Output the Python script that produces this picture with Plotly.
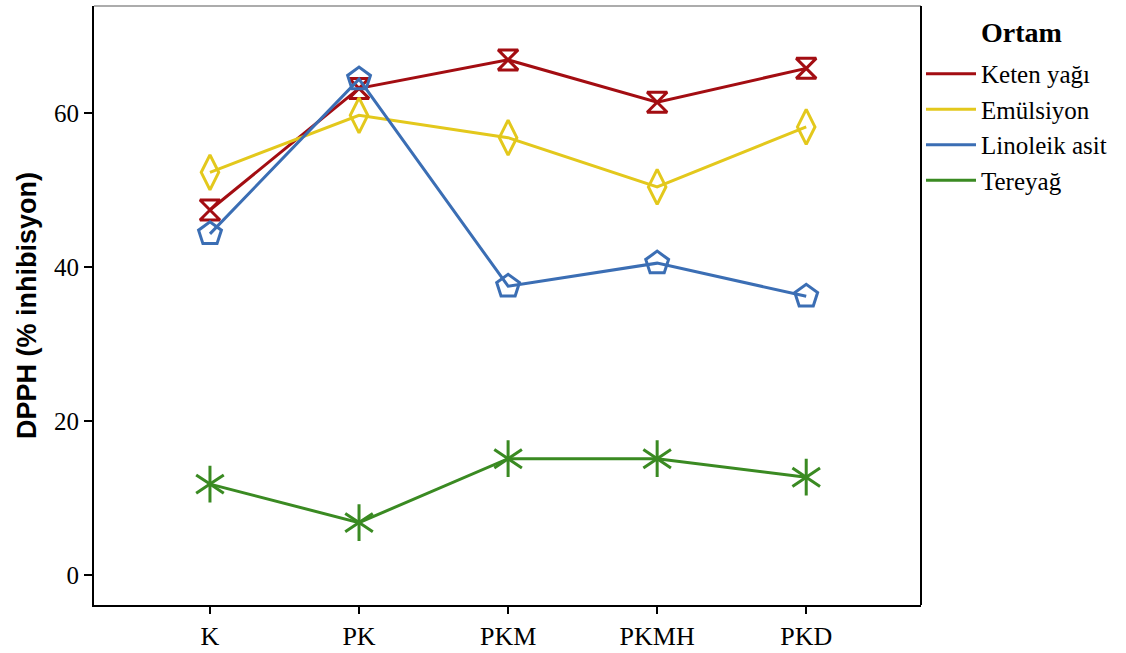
import plotly.graph_objects as go

# Sample groups on the x axis
categories = ["K", "PK", "PKM", "PKMH", "PKD"]

# DPPH radical scavenging (% inhibition) for each medium
keten_yagi = [47.4, 63.2, 66.9, 61.4, 65.8]
emulsiyon = [52.3, 59.7, 56.8, 50.4, 58.2]
linoleik_asit = [44.3, 64.4, 37.5, 40.5, 36.2]
tereyag = [11.8, 6.8, 15.1, 15.1, 12.7]

series_names = ["Keten yağı", "Emülsiyon", "Linoleik asit", "Tereyağ"]
y_ticks = [0, 20, 40, 60]

colors = ["#A30D12", "#E3C81C", "#3B6EB4", "#3A8A22"]
symbols = ["hourglass-open", "diamond-tall-open", "pentagon-open", "y-up-open"]
sizes = [20, 25, 24, 23]
values = [keten_yagi, emulsiyon, linoleik_asit, tereyag]

serif = "Liberation Serif, Times New Roman, serif"
sans = "Liberation Sans, Arial, sans-serif"

fig = go.Figure()

x_idx = list(range(len(categories)))

for name, vals, col, sym, sz in zip(series_names, values, colors, symbols, sizes):
    fig.add_trace(go.Scatter(
        x=x_idx, y=vals, mode="lines+markers", name=name, showlegend=False,
        line=dict(color=col, width=3),
        marker=dict(symbol=sym, size=sz, color=col, line=dict(color=col, width=3)),
        hoverinfo="x+y+name",
    ))

# second half of the six-armed star for the butter series
fig.add_trace(go.Scatter(
    x=x_idx, y=tereyag, mode="markers", showlegend=False,
    marker=dict(symbol="y-down-open", size=23, color=colors[3],
                line=dict(color=colors[3], width=3)),
    hoverinfo="skip",
))

# legend entries show only the line sample
for name, col in zip(series_names, colors):
    fig.add_trace(go.Scatter(
        x=[None], y=[None], mode="lines", name=name,
        line=dict(color=col, width=3), showlegend=True,
    ))

fig.update_layout(
    width=1126, height=653,
    margin=dict(l=94, r=205, t=6, b=48),
    paper_bgcolor="white", plot_bgcolor="white",
    showlegend=True,
    legend=dict(
        x=1.0, xanchor="left", y=0.925, yanchor="top",
        itemwidth=50,
        font=dict(family=serif, size=25, color="black"),
        bgcolor="rgba(0,0,0,0)", tracegroupgap=0,
    ),
    annotations=[
        dict(text="<b>Ortam</b>", xref="paper", yref="paper",
             x=1.121, y=0.955, xanchor="center", yanchor="middle",
             showarrow=False, font=dict(family=serif, size=28, color="black")),
    ],
    xaxis=dict(
        range=[-0.778, 4.77], tickmode="array", tickvals=x_idx, ticktext=categories,
        showgrid=False, zeroline=False, automargin=False,
        showline=True, linecolor="black", linewidth=2,
        ticks="outside", ticklen=7, tickwidth=2, tickcolor="black",
        tickfont=dict(family=serif, size=26, color="black"),
    ),
    yaxis=dict(
        range=[-3.9, 73.9], tickmode="array", tickvals=y_ticks,
        showgrid=False, zeroline=False, automargin=False,
        showline=True, linecolor="black", linewidth=2,
        ticks="outside", ticklen=8, tickwidth=2, tickcolor="black",
        tickfont=dict(family=serif, size=25, color="black"),
        title=dict(text="<b>DPPH (% inhibisyon)</b>", standoff=10,
                   font=dict(family=sans, size=27, color="black")),
    ),
    shapes=[
        dict(type="line", xref="paper", yref="paper", x0=0, x1=1, y0=1, y1=1,
             line=dict(color="#909090", width=1.5)),
        dict(type="line", xref="paper", yref="paper", x0=1, x1=1, y0=0, y1=1,
             line=dict(color="black", width=2)),
    ],
)

fig.write_html("out.html")
